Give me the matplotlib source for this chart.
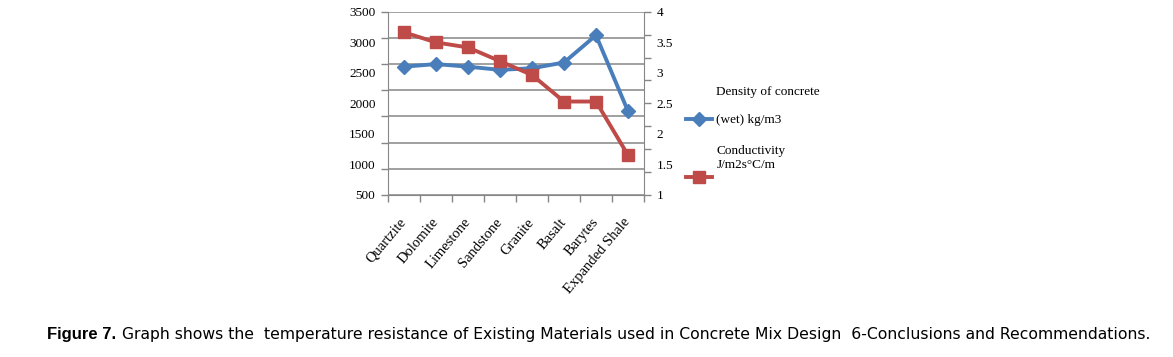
import matplotlib
matplotlib.use("Agg")
import matplotlib.pyplot as plt
import numpy as np
from matplotlib.ticker import FixedLocator, NullFormatter
from matplotlib.legend_handler import HandlerLine2D
from matplotlib import font_manager as fm

categories = ['Quartzite', 'Dolomite', 'Limestone', 'Sandstone', 'Granite',
              'Basalt', 'Barytes', 'Expanded Shale']
density = [2450, 2500, 2450, 2390, 2420, 2530, 3050, 1600]
conductivity = [3.55, 3.33, 3.22, 2.92, 2.62, 2.04, 2.04, 0.87]
left_labels = [500, 1000, 1500, 2000, 2500, 3000, 3500]
right_labels = [1, 1.5, 2, 2.5, 3, 3.5, 4]
series_names = ['Density of concrete\n\n(wet) kg/m3',
                'Conductivity\nJ/m2s°C/m']


def have(name):
    try:
        fm.findfont(fm.FontProperties(family=name), fallback_to_default=False)
        return True
    except Exception:
        return False


class ShiftedLine(HandlerLine2D):
    """Legend line handle moved down by `shift` points."""
    def __init__(self, shift, **kw):
        super().__init__(**kw)
        self.shift = shift

    def create_artists(self, legend, orig_handle, xdescent, ydescent,
                       width, height, fontsize, trans):
        arts = super().create_artists(legend, orig_handle, xdescent, ydescent,
                                      width, height, fontsize, trans)
        for a in arts:
            a.set_ydata(np.asarray(a.get_ydata(), dtype=float) - self.shift)
        return arts


W, H = 1173, 357
fig = plt.figure(figsize=(W / 100, H / 100), dpi=100)
serif = 'Liberation Serif'
gray = '#868686'
blue = '#4A7EBB'
red = '#BE4B48'

x0, x1, yt, yb = 388, 644, 11.7, 195
ax = fig.add_axes([x0 / W, 1 - yb / H, (x1 - x0) / W, (yb - yt) / H])
x = np.arange(len(categories))

ax.set_xlim(-0.5, len(categories) - 0.5)
ax.set_ylim(0, 3500)
ax.set_yticks(np.arange(0, 3501, 500))
ax.yaxis.set_major_formatter(NullFormatter())
ax.grid(axis='y', color=gray, linewidth=1.1)
ax.set_axisbelow(True)
ax.tick_params(axis='y', length=5, color=gray, width=1)
ax.set_xticks(x)
ax.set_xticklabels(categories, rotation=50, ha='right', va='center',
                   rotation_mode='anchor', family=serif, fontsize=10.5)
ax.tick_params(axis='x', which='major', length=0, pad=18)
ax.xaxis.set_minor_locator(FixedLocator(np.arange(-0.5, len(categories), 1)))
ax.tick_params(axis='x', which='minor', length=5, color=gray, width=1)
for s in ['left', 'bottom', 'right']:
    ax.spines[s].set_color(gray)
ax.spines['top'].set_visible(False)

ax.plot(x, density, color=blue, linewidth=2.8, marker='D', markersize=7,
        label=series_names[0], zorder=3)

sec_l = ax.secondary_yaxis('left', functions=(lambda y: 500 + y * 3000 / 3500,
                                              lambda v: (v - 500) * 3500 / 3000))
sec_l.set_yticks(left_labels)
sec_l.set_yticklabels([str(v) for v in left_labels], family=serif, fontsize=9.5)
sec_l.tick_params(length=0, pad=9)
sec_l.spines['left'].set_visible(False)

ax2 = ax.twinx()
ax2.set_ylim(0, 4)
ax2.set_yticks(np.arange(0, 4.01, 0.5))
ax2.yaxis.set_major_formatter(NullFormatter())
ax2.tick_params(axis='y', length=5, color=gray, width=1)
for s in ['left', 'bottom', 'right', 'top']:
    ax2.spines[s].set_visible(False)
ax2.plot(x, conductivity, color=red, linewidth=2.8, marker='s', markersize=8,
         label=series_names[1], zorder=3)

sec_r = ax2.secondary_yaxis('right', functions=(lambda y: 1 + y * 3 / 4,
                                                lambda v: (v - 1) * 4 / 3))
sec_r.set_yticks(right_labels)
sec_r.set_yticklabels(['%g' % v for v in right_labels], family=serif, fontsize=9.5)
sec_r.tick_params(length=0, pad=9)
sec_r.spines['right'].set_visible(False)

l_blue = ax.get_lines()[0]
l_red = ax2.get_lines()[0]
leg = fig.legend([l_blue, l_red], series_names, loc='upper left',
                 bbox_to_anchor=(686 / W, 1 - 86 / H), frameon=False,
                 prop={'family': serif, 'size': 9.5}, borderaxespad=0,
                 borderpad=0, handlelength=2.0, handletextpad=0.3,
                 labelspacing=1.45,
                 handler_map={l_blue: ShiftedLine(9.4),
                              l_red: ShiftedLine(14.0)})
for t in leg.get_texts():
    t.set_linespacing(1.2)

cap_y = 1 - 334 / H
bold_fam = ['Liberation Sans', 'DejaVu Sans']
if have('Liberation Sans Narrow'):
    bold_fam = ['Liberation Sans Narrow', 'DejaVu Sans']
t1 = fig.text(47 / W, cap_y, 'Figure 7.', fontsize=12, fontweight='bold',
              family=bold_fam, va='center')
fig.canvas.draw()
bb = t1.get_window_extent()
start = bb.x1 + 6
t2 = fig.text(start / W, cap_y,
              'Graph shows the  temperature resistance of Existing Materials used in '
              'Concrete Mix Design  6-Conclusions and Recommendations.',
              fontsize=11, family=['DejaVu Sans'], va='center')
fig.canvas.draw()
bb2 = t2.get_window_extent()
t2.set_fontsize(11 * (1150 - start) / bb2.width)

fig.savefig('out.png', dpi=100)
